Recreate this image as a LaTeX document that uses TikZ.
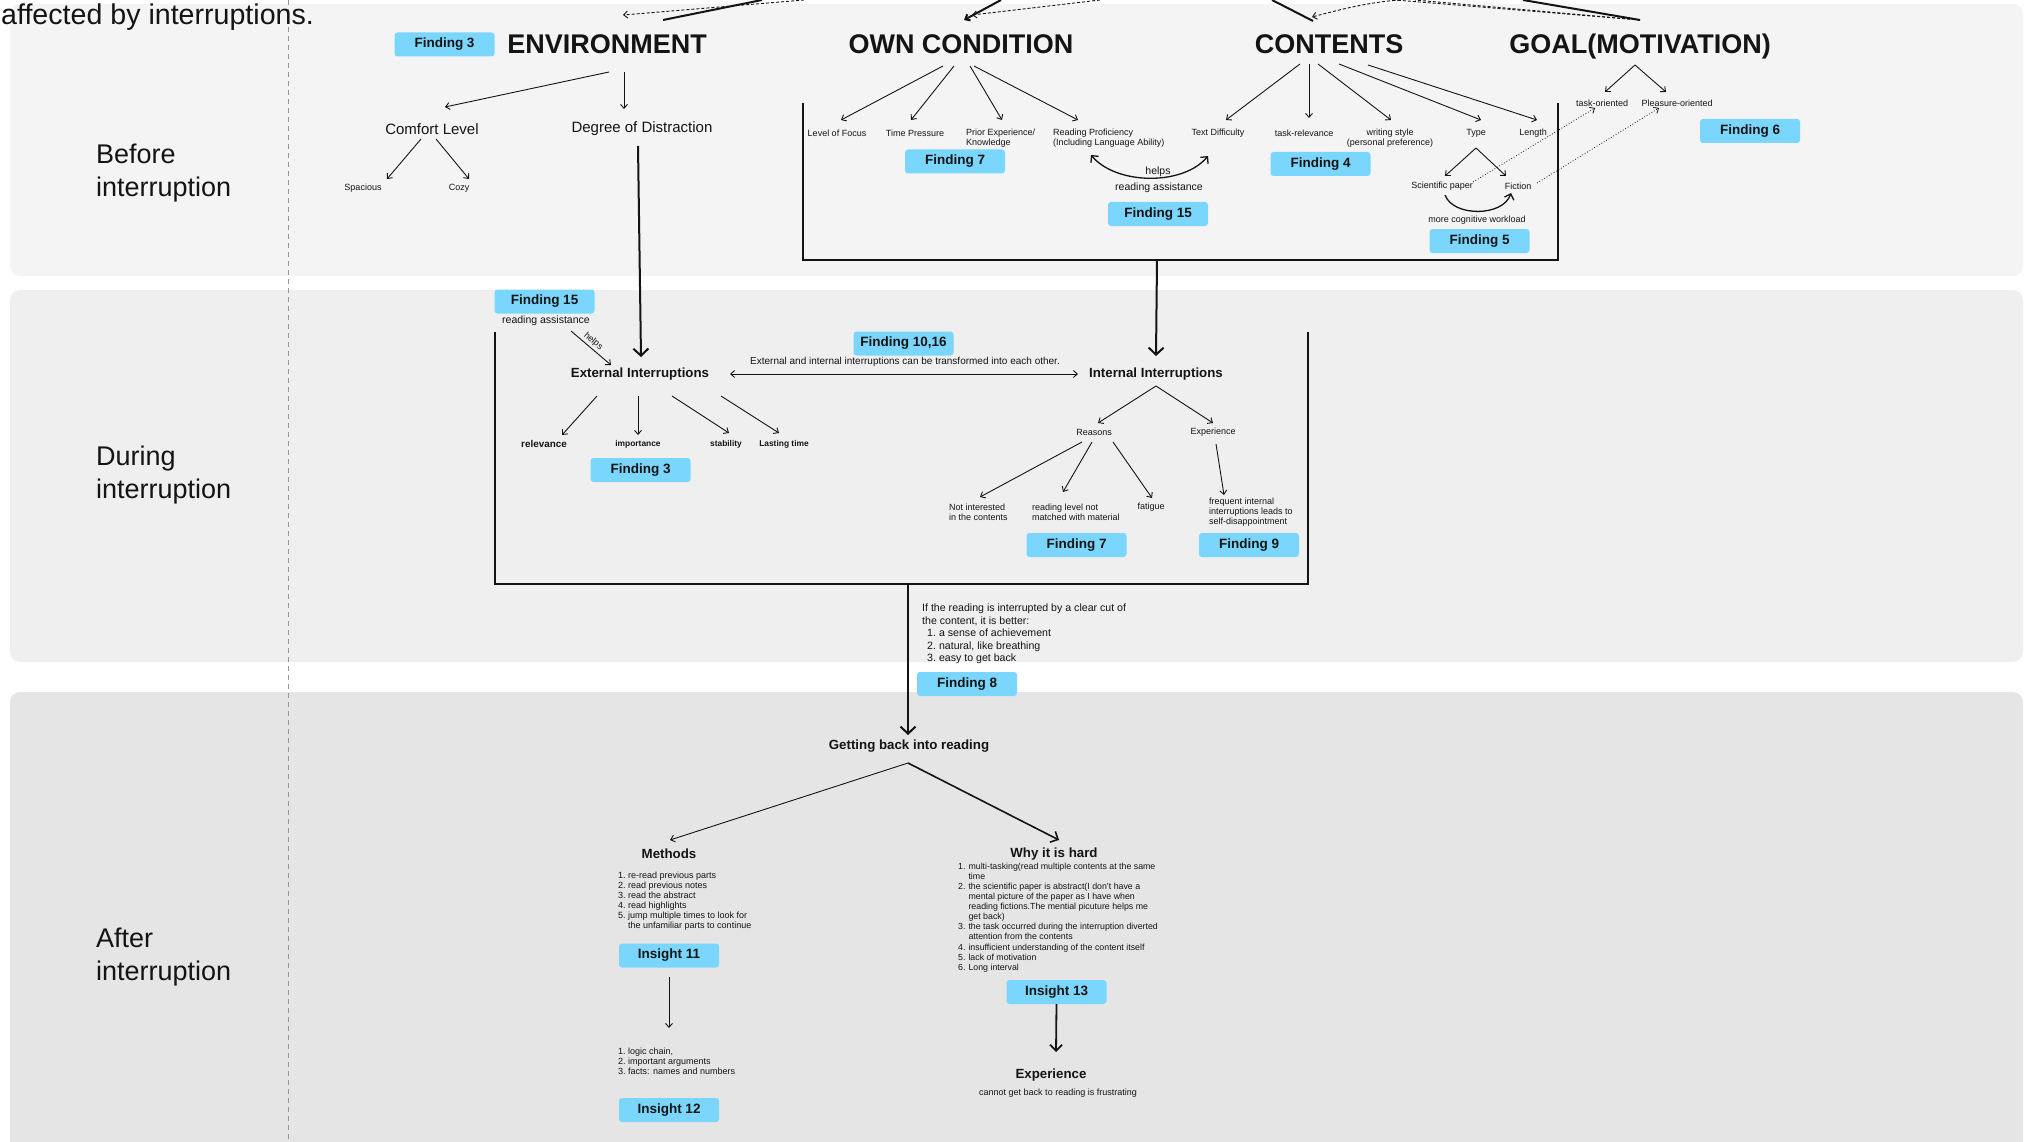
\documentclass[tikz,border=0pt]{standalone}
\usepackage{fontspec}
\setmainfont{Liberation Sans}
\usetikzlibrary{arrows.meta,calc}
\definecolor{findblue}{RGB}{122,214,253}
\definecolor{bandA}{RGB}{244,244,244}
\definecolor{bandB}{RGB}{239,239,239}
\definecolor{bandC}{RGB}{229,229,229}
\definecolor{ink}{RGB}{20,20,20}
\definecolor{sepgray}{RGB}{150,150,150}
\begin{document}
\begin{tikzpicture}[x=1pt,y=-1pt,
  txt/.style={inner sep=0pt,align=center,text=ink},
  sec/.style={txt,align=left,anchor=west,font=\fontsize{27}{33}\selectfont},
  head/.style={txt,text height=19.5pt,text depth=0pt,font=\bfseries\fontsize{27}{31}\selectfont},
  mid/.style={txt,font=\fontsize{15}{18}\selectfont},
  small/.style={txt,font=\fontsize{9}{10.3}\selectfont},
  smallb/.style={txt,font=\bfseries\fontsize{8.4}{10}\selectfont},
  note/.style={txt,font=\fontsize{10.5}{12.5}\selectfont},
  subhead/.style={txt,font=\bfseries\fontsize{13.3}{16}\selectfont},
  listtxt/.style={txt,align=left,anchor=north west,font=\fontsize{9}{10}\selectfont},
  finding/.style={fill=findblue,rounded corners=3pt,minimum width=100pt,minimum height=24pt,
    inner sep=0pt,text=ink,font=\bfseries\fontsize{13.5}{16}\selectfont},
  arr/.style={draw=ink,line width=0.9pt,-{Straight Barb[length=4pt,width=7pt]}},
  dblarr/.style={draw=ink,line width=0.9pt,{Straight Barb[length=4pt,width=7pt]}-{Straight Barb[length=4pt,width=7pt]}},
  bigarr/.style={draw=ink,line width=2pt,-{Straight Barb[length=7pt,width=15pt]}},
  whyarr/.style={draw=ink,line width=1.6pt,-{Straight Barb[length=6pt,width=12pt]}},
  curvarr/.style={draw=ink,line width=1.3pt,-{Straight Barb[length=5pt,width=10pt]}},
  dblcurv/.style={draw=ink,line width=1.3pt,{Straight Barb[length=5pt,width=10pt]}-{Straight Barb[length=5pt,width=10pt]}},
  dotarr/.style={draw=ink,line width=0.8pt,dotted,-{Straight Barb[length=4pt,width=7pt]}},
  dasharr/.style={draw=ink,line width=0.9pt,dash pattern=on 3pt off 2pt,-{Straight Barb[length=4pt,width=7pt]}},
  dashline/.style={draw=ink,line width=0.9pt,dash pattern=on 3pt off 2pt},
  thickline/.style={draw=ink,line width=2pt},
  frame/.style={draw=ink,line width=2pt}
]
\useasboundingbox (0,0) rectangle (2026,1142);
\clip (0,0) rectangle (2026,1142);
\fill[white] (0,0) rectangle (2026,1142);

% phase bands
\fill[bandA,rounded corners=10pt] (10,4) rectangle (2023,276);
\fill[bandB,rounded corners=10pt] (10,290) rectangle (2023,662);
\fill[bandC,rounded corners=10pt] (10,692) rectangle (2023,1160);

% separator between phase labels and content
\draw[sepgray,line width=0.8pt,dash pattern=on 5pt off 4pt] (288,0) -- (288,1142);

\node[txt,anchor=base west,font=\fontsize{28.6}{34}\selectfont] (title) at (1,25) {affected by interruptions.};

% phase labels
\node[sec] (before) at (96,173) {Before\\interruption};
\node[sec] (during) at (96,475) {During\\interruption};
\node[sec] (after) at (96,957) {After\\interruption};

% ---------- before interruption ----------
\node[head] (env) at (607,44) {ENVIRONMENT};
\node[head] (own) at (961,44) {OWN CONDITION};
\node[head] (cont) at (1329,44) {CONTENTS};
\node[head] (goal) at (1640,44) {GOAL(MOTIVATION)};

\node[finding] (f3a) at (444.5,44.5) {Finding 3};
\node[finding] (f7a) at (955,161.5) {Finding 7};
\node[finding] (f15a) at (1158,214) {Finding 15};
\node[finding] (f4) at (1320.5,164) {Finding 4};
\node[finding] (f5) at (1479.5,241) {Finding 5};
\node[finding] (f6) at (1750,131) {Finding 6};

\node[mid] (comfort) at (432,129) {Comfort Level};
\node[mid] (degree) at (642,129) {Degree of Distraction};
\node[small] (spacious) at (363,188) {Spacious};
\node[small] (cozy) at (459,188) {Cozy};

\node[small] (lof) at (837,133) {Level of Focus};
\node[small] (tp) at (915,133) {Time Pressure};
\node[small,anchor=west,align=left] (prior) at (966,138) {Prior Experience/\\Knowledge};
\node[small,anchor=west,align=left] (rp) at (1053,138) {Reading Proficiency\\(Including Language Ability)};
\node[small] (td) at (1218,133) {Text Difficulty};
\node[small] (tr) at (1304,133) {task-relevance};
\node[small] (ws) at (1390,138) {writing style\\(personal preference)};
\node[small] (type) at (1476,133) {Type};
\node[small] (len) at (1533,133) {Length};
\node[small] (sci) at (1442,186) {Scientific paper};
\node[small] (fic) at (1518,186) {Fiction};
\node[small] (mcw) at (1477,220) {more cognitive workload};
\node[small] (task) at (1602,103) {task-oriented};
\node[small] (pleas) at (1677,103) {Pleasure-oriented};
\node[note] (helpsA) at (1158,172) {helps};
\node[note] (raA) at (1159,188) {reading assistance};

% links leaving the top edge
\coordinate (t1) at (804,0);
\coordinate (t2) at (762,0);
\coordinate (t3) at (1001,0);
\coordinate (t4) at (1100,0);
\coordinate (t5) at (1272,0);
\coordinate (t6) at (1400,0);
\coordinate (t7) at (1523,0);
\coordinate (t8) at (1395,0);
\coordinate (t9) at (1415,0);
\draw[dasharr] (t1) -- ($(env)+(16,-29)$);
\draw[thickline] (t2) -- ($(env)+(56,-24)$);
\draw[arr,line width=2pt] (t3) -- ($(own)+(3,-24)$);
\draw[dasharr] (t4) -- ($(own)+(11,-29)$);
\draw[thickline] (t5) -- ($(cont)+(-16,-23)$);
\draw[dasharr] (t6) .. controls +(-30,2) and +(30,-8) .. ($(cont)+(-17,-27)$);
\draw[thickline] (t7) -- ($(goal)+(0,-24)$);
\draw[dashline] ($(goal)+(0,-24)$) -- (t8);
\draw[dashline] ($(goal)+(0,-24)$) -- (t9);

% environment
\draw[arr] ($(env)+(2,28)$) -- ($(comfort)+(13,-22)$);
\draw[arr] ($(env)+(17,28)$) -- ($(degree)+(-18,-20)$);
\draw[arr] ($(comfort)+(-11,10)$) -- ($(spacious)+(24,-9)$);
\draw[arr] ($(comfort)+(4,10)$) -- ($(cozy)+(10,-9)$);

% own condition
\draw[arr] ($(own)+(-18,22)$) -- ($(lof)+(4,-13)$);
\draw[arr] ($(own)+(-7,22)$) -- ($(tp)+(-4,-13)$);
\draw[arr] ($(own)+(9,22)$) -- ($(prior.west)+(36,-18)$);
\draw[arr] ($(own)+(13,22)$) -- ($(rp.west)+(25,-18)$);
\draw[dblcurv] ($(rp.west)+(38,17)$) .. controls +(25,30) and +(-25,30) .. ($(td)+(-10,23)$);

% contents
\draw[arr] ($(cont)+(-29,20)$) -- ($(td)+(8,-13)$);
\draw[arr] ($(cont)+(-20,20)$) -- ($(tr)+(5,-15)$);
\draw[arr] ($(cont)+(-11,20)$) -- ($(ws)+(1,-18)$);
\draw[arr] ($(cont)+(10,20)$) -- ($(type)+(5,-13)$);
\draw[arr] ($(cont)+(39,21)$) -- ($(len)+(4,-13)$);
\draw[arr] ($(type)+(0,15)$) -- ($(sci)+(3,-10)$);
\draw[arr] ($(type)+(0,15)$) -- ($(fic)+(-12,-10)$);
\draw[curvarr] ($(sci)+(3,9)$) .. controls +(8,22) and +(-8,24) .. ($(fic)+(-7,7)$);

% goal
\draw[arr] ($(goal)+(-5,21)$) -- ($(task)+(3,-11)$);
\draw[arr] ($(goal)+(-5,21)$) -- ($(pleas)+(-11,-11)$);
\draw[dotarr] ($(sci)+(31,-4)$) -- ($(task)+(-7,5)$);
\draw[dotarr] ($(fic)+(19,-3)$) -- ($(pleas)+(-18,5)$);

% bracket round own condition and contents
\draw[frame] (803,103) |- (1558,260) -- (1558,103);
\coordinate (b1) at (1157,260);

% ---------- during interruption ----------
\node[subhead] (ext) at (640,374) {External Interruptions};
\node[subhead] (int) at (1156,374) {Internal Interruptions};
\node[finding] (f15b) at (544.5,301.5) {Finding 15};
\node[finding] (f1016) at (903.5,343.5) {Finding 10,16};
\node[finding] (f3b) at (640.5,470) {Finding 3};
\node[finding] (f7b) at (1076.5,545) {Finding 7};
\node[finding] (f9) at (1249,545) {Finding 9};
\node[note] (raB) at (546,321) {reading assistance};
\node[txt,font=\fontsize{10}{12}\selectfont] (transf) at (905,362) {External and internal interruptions can be transformed into each other.};

\node[txt,font=\bfseries\fontsize{9.9}{12}\selectfont] (rel) at (544,444) {relevance};
\node[smallb] (imp) at (638,444) {importance};
\node[smallb] (stab) at (726,444) {stability};
\node[smallb] (last) at (784,444) {Lasting time};
\node[small] (reas) at (1094,432) {Reasons};
\node[small] (expc) at (1213,432) {Experience};
\node[small,anchor=west,align=left] (notint) at (949,512) {Not interested\\in the contents};
\node[small,anchor=west,align=left] (rlev) at (1032,512) {reading level not\\matched with material};
\node[small] (fat) at (1151,507) {fatigue};
\node[small,anchor=west,align=left] (freq) at (1209,512) {frequent internal\\interruptions leads to\\self-disappointment};

\draw[bigarr] ($(degree)+(-4,17)$) -- ($(ext)+(1,-17)$);
\draw[bigarr] (b1) -- ($(int)+(0,-18)$);
\draw[arr] ($(raB)+(25,10)$) -- node[txt,pos=0.45,sloped,above=2pt,font=\fontsize{9}{10}\selectfont] {helps} ($(ext)+(-29,-9)$);
\draw[dblarr] ($(ext)+(90,0)$) -- ($(int)+(-78,0)$);

\draw[arr] ($(ext)+(-43,22)$) -- ($(rel)+(18,-9)$);
\draw[arr] ($(ext)+(-2,22)$) -- ($(imp)+(0,-9)$);
\draw[arr] ($(ext)+(32,22)$) -- ($(stab)+(3,-11)$);
\draw[arr] ($(ext)+(81,22)$) -- ($(last)+(-5,-11)$);
\draw[arr] ($(int)+(0,12)$) -- ($(reas)+(4,-9)$);
\draw[arr] ($(int)+(0,12)$) -- ($(expc)+(0,-9)$);
\draw[arr] ($(reas)+(-12,10)$) -- ($(notint.west)+(31,-15)$);
\draw[arr] ($(reas)+(-2,10)$) -- ($(rlev.west)+(31,-20)$);
\draw[arr] ($(reas)+(19,10)$) -- ($(fat)+(1,-9)$);
\draw[arr] ($(expc)+(3,12)$) -- ($(freq.west)+(15,-17)$);

% bracket round the interruptions
\draw[frame] (495,332) |- (1308,584) -- (1308,332);
\coordinate (b2) at (908,584);

\node[txt,anchor=north west,align=left,font=\fontsize{10.6}{12.5}\selectfont] (cut) at (922,603) {%
\begin{tabular}{@{\hspace{5pt}}l@{\hspace{3pt}}l@{}}
\multicolumn{2}{@{}l@{}}{If the reading is interrupted by a clear cut of}\\
\multicolumn{2}{@{}l@{}}{the content, it is better:}\\
1.& a sense of achievement\\
2.& natural, like breathing\\
3.& easy to get back
\end{tabular}};
\node[finding] (f8) at (967,684) {Finding 8};

% ---------- after interruption ----------
\node[subhead] (gb) at (909,746) {Getting back into reading};
\node[subhead] (meth) at (669,854) {Methods};
\node[subhead] (why) at (1054,854) {Why it is hard};
\draw[bigarr] (b2) -- ($(gb)+(-1,-11)$);
\draw[arr] ($(gb)+(-1,17)$) -- ($(meth)+(1,-14)$);
\draw[whyarr] ($(gb)+(-1,17)$) -- ($(why)+(5,-14)$);

\node[listtxt] (mlist) at (618,871) {%
\begin{tabular}{@{}l@{\hspace{2.5pt}}l@{}}
1.& re-read previous parts\\
2.& read previous notes\\
3.& read the abstract\\
4.& read highlights\\
5.& jump multiple times to look for\\
  & the unfamiliar parts to continue
\end{tabular}};
\node[finding] (i11) at (669,955.5) {Insight 11};
\node[listtxt] (ilist) at (618,1047) {%
\begin{tabular}{@{}l@{\hspace{2.5pt}}l@{}}
1.& logic chain,\\
2.& important arguments\\
3.& facts: names and numbers
\end{tabular}};
\node[finding] (i12) at (669,1110) {Insight 12};
\draw[arr] ($(i11)+(0,21.5)$) -- ($(ilist.north west)+(51,-19)$);

\node[listtxt,font=\fontsize{8.8}{10.1}\selectfont] (wlist) at (958,862) {%
\begin{tabular}{@{}l@{\hspace{3pt}}l@{}}
1.& multi-tasking(read multiple contents at the same\\
  & time\\
2.& the scientific paper is abstract(I don't have a\\
  & mental picture of the paper as I have when\\
  & reading fictions.The mential picuture helps me\\
  & get back)\\
3.& the task occurred during the interruption diverted\\
  & attention from the contents\\
4.& insufficient understanding of the content itself\\
5.& lack of motivation\\
6.& Long interval
\end{tabular}};
\node[finding] (i13) at (1056.5,992) {Insight 13};
\node[subhead] (expf) at (1051,1075) {Experience};
\node[small] (frus) at (1058,1093) {cannot get back to reading is frustrating};
\draw[whyarr,line width=1.8pt] ($(i13)+(0,12)$) -- ($(expf)+(5,-23)$);
\end{tikzpicture}
\end{document}
